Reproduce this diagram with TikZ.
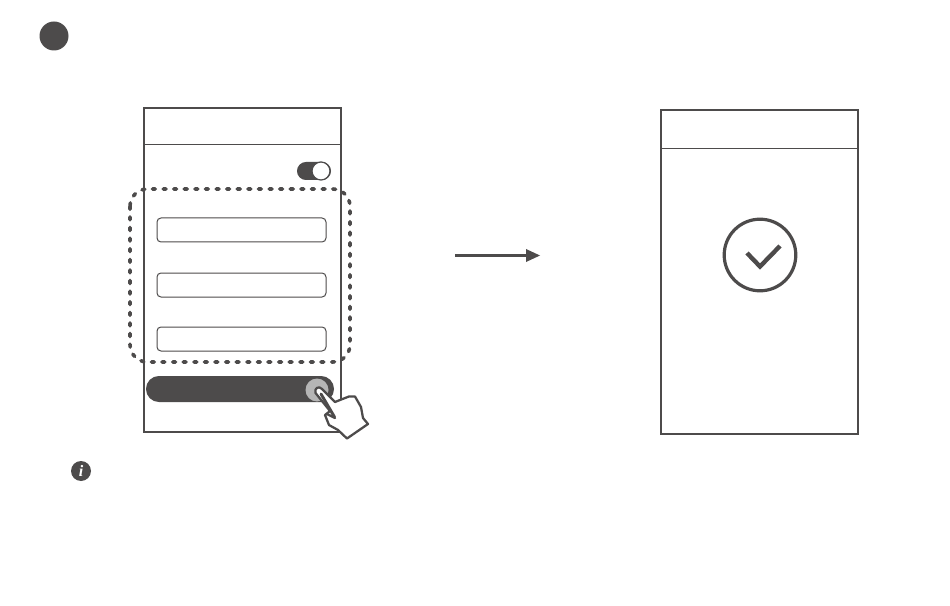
\documentclass[tikz,border=0pt]{standalone}
\usepackage{fontspec}
\setmainfont{Liberation Serif}
\usetikzlibrary{arrows.meta}
\definecolor{ink}{HTML}{4D4B4B}
\definecolor{softgray}{HTML}{B5B5B5}
\tikzset{
  screen/.style={draw=ink,line width=1.5pt,fill=white},
  thinline/.style={draw=ink,line width=0.75pt},
  field/.style={draw=ink,line width=0.75pt,rounded corners=3pt},
  dashbox/.style={draw=ink,line width=2.7pt,line cap=round,dash pattern=on 2.2pt off 5.75pt,rounded corners=13pt},
  solid ink/.style={fill=ink,draw=none}
}
\begin{document}
\begin{tikzpicture}[x=0.75pt,y=-0.75pt]
\useasboundingbox (0,0) rectangle (950,606);
\fill[white] (0,0) rectangle (950,606);
% step marker
\node[solid ink,circle,minimum size=21.75pt,inner sep=0pt] (marker) at (54,36) {};
% left screen
\draw[screen] (144,108) rectangle (341,432);
\draw[thinline] (144,145) -- (341,145);
% toggle
\fill[ink,rounded corners=6.7pt] (297,162) rectangle (331,180);
\draw[ink,line width=0.9pt,fill=white] (321,171) circle (9);
% fields
\draw[field] (157,218) rectangle (326,242);
\draw[field] (157,273) rectangle (326,297);
\draw[field] (157,327) rectangle (326,351);
% dashed selection
\draw[dashbox] (130,189) rectangle (350,362);
% button
\fill[ink,rounded corners=9.7pt] (146,376) rectangle (334,402);
\fill[softgray] (317,390) circle (11.5);
% hand
\draw[ink,line width=1.7pt,line join=round,fill=white]
  (315.5,393) .. controls (314,388) and (319,385.5) .. (322,389)
  -- (335,402) -- (340,400) -- (349,396.5) -- (355,396.5)
  -- (361,407) -- (363,418) -- (368,424) -- (347,438.5)
  -- (338,430) -- (329,425) -- (325,415) -- (330,411) -- cycle;
\draw[ink,line width=2.2pt,line cap=round] (321,394) -- (334.5,417);
\draw[ink,line width=1.7pt,line cap=round] (327,414) -- (335,418);
% arrow
\draw[ink,line width=1.9pt] (455,255.5) -- (529,255.5);
\fill[ink] (540,255.5) -- (526,249) -- (526,262) -- cycle;
% right screen
\draw[screen] (661,110) rectangle (858,434);
\draw[thinline] (661,149) -- (858,149);
\draw[ink,line width=2.4pt] (760,255) circle (35.8);
\draw[ink,line width=3.3pt,line join=miter] (747,253) -- (760,266.5) -- (780,246);
% info
\node[solid ink,circle,minimum size=15pt,inner sep=0pt,text=white,font=\fontsize{12}{12}\selectfont\itshape\bfseries] (info) at (81,471) {i};
\end{tikzpicture}
\end{document}
